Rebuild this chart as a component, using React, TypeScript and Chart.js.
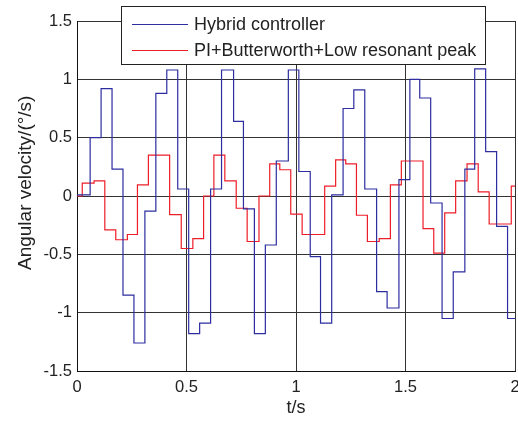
import React, { useEffect, useRef } from "react";
import { Chart, registerables } from "chart.js";

Chart.register(...registerables);

// Hybrid controller: step start times (s) and values (°/s)
const hybridTimes = [0, 0.06, 0.11, 0.16, 0.21, 0.26, 0.31, 0.36, 0.41, 0.46, 0.51, 0.56, 0.61, 0.66, 0.715, 0.76, 0.81, 0.86, 0.91, 0.965, 1.013, 1.065, 1.112, 1.163, 1.215, 1.264, 1.314, 1.368, 1.416, 1.47, 1.52, 1.565, 1.615, 1.667, 1.718, 1.771, 1.816, 1.866, 1.916, 1.966];
const hybridValues = [0.01, 0.5, 0.92, 0.23, -0.85, -1.26, -0.13, 0.88, 1.08, 0.06, -1.18, -1.09, 0.06, 1.08, 0.64, -0.11, -1.18, -0.42, 0.3, 1.08, 0.21, -0.52, -1.09, 0.01, 0.75, 0.91, 0.06, -0.82, -0.96, 0.14, 1.0, 0.84, -0.06, -1.05, -0.65, 0.23, 1.09, 0.38, -0.26, -1.05];

// PI+Butterworth+Low resonant peak: step start times (s) and values (°/s)
const piTimes = [0, 0.024, 0.078, 0.127, 0.177, 0.23, 0.276, 0.326, 0.423, 0.476, 0.529, 0.578, 0.625, 0.675, 0.727, 0.777, 0.831, 0.88, 0.926, 0.976, 1.028, 1.131, 1.181, 1.227, 1.276, 1.326, 1.38, 1.431, 1.481, 1.58, 1.629, 1.679, 1.729, 1.781, 1.832, 1.882, 1.983];
const piValues = [0, 0.11, 0.13, -0.29, -0.375, -0.33, 0.095, 0.35, -0.16, -0.45, -0.365, 0, 0.35, 0.13, -0.105, -0.39, 0, 0.275, 0.225, -0.155, -0.33, 0.085, 0.31, 0.275, -0.165, -0.39, -0.365, 0.095, 0.3, -0.28, -0.49, -0.145, 0.13, 0.275, 0.035, -0.24, 0.085];

const seriesNames = ["Hybrid controller", "PI+Butterworth+Low resonant peak"];
const xTicks = [0, 0.5, 1, 1.5, 2];
const yTicks = [-1.5, -1, -0.5, 0, 0.5, 1, 1.5];
const tEnd = 2;

const BLUE = "rgb(45,45,160)";
const RED = "rgb(238,30,40)";
const FONT = "'Liberation Sans', Arial, Helvetica, sans-serif";

function toSteps(times: number[], values: number[]) {
  const pts = times.map((t, i) => ({ x: t, y: values[i] }));
  pts.push({ x: tEnd, y: values[values.length - 1] });
  return pts;
}

const legendPlugin = {
  id: "boxLegend",
  afterDraw(chart: any) {
    const ctx = chart.ctx;
    const colors = [BLUE, RED];
    ctx.save();
    const bx = 121.5, by = 6.5, bw = 364, bh = 58;
    ctx.fillStyle = "#fff";
    ctx.fillRect(bx, by, bw, bh);
    ctx.strokeStyle = "#222";
    ctx.lineWidth = 1;
    ctx.strokeRect(bx, by, bw, bh);
    ctx.font = `18px ${FONT}`;
    ctx.textBaseline = "middle";
    ctx.textAlign = "left";
    seriesNames.forEach((name, i) => {
      const y = 24.5 + i * 26;
      ctx.strokeStyle = colors[i];
      ctx.beginPath();
      ctx.moveTo(132, y);
      ctx.lineTo(188, y);
      ctx.stroke();
      ctx.fillStyle = "#222";
      ctx.fillText(name, 194, y + 1);
    });
    ctx.restore();
  },
};

export default function App() {
  const ref = useRef<HTMLCanvasElement | null>(null);
  useEffect(() => {
    if (!ref.current) return;
    const chart = new Chart(ref.current, {
      type: "line",
      data: {
        datasets: [
          {
            label: seriesNames[0],
            data: toSteps(hybridTimes, hybridValues),
            borderColor: BLUE,
            borderWidth: 1.2,
            pointRadius: 0,
            stepped: "before",
            fill: false,
          },
          {
            label: seriesNames[1],
            data: toSteps(piTimes, piValues),
            borderColor: RED,
            borderWidth: 1.2,
            pointRadius: 0,
            stepped: "before",
            fill: false,
          },
        ],
      },
      options: {
        animation: false,
        responsive: false,
        devicePixelRatio: 1,
        layout: { padding: { top: 21, right: 3, left: 0, bottom: 0 } },
        plugins: { legend: { display: false }, tooltip: { enabled: false } },
        scales: {
          x: {
            type: "linear",
            min: 0,
            max: 2,
            afterBuildTicks: (s: any) => {
              s.ticks = xTicks.map((v) => ({ value: v }));
            },
            afterFit: (s: any) => {
              s.height = 50;
              s.paddingLeft = 0;
              s.paddingRight = 0;
            },
            grid: { color: "#333", lineWidth: 1, drawTicks: false },
            border: { display: true, color: "#111", width: 1 },
            ticks: {
              padding: 7,
              color: "#222",
              font: { family: FONT, size: 16.5 },
              maxRotation: 0,
              autoSkip: false,
              callback: (v: any) => String(v),
            },
            title: {
              display: true,
              text: "t/s",
              color: "#222",
              font: { family: FONT, size: 18 },
              padding: { top: 0, bottom: 2 },
            },
          },
          y: {
            type: "linear",
            min: -1.5,
            max: 1.5,
            afterBuildTicks: (s: any) => {
              s.ticks = yTicks.map((v) => ({ value: v }));
            },
            afterFit: (s: any) => {
              s.width = 77;
              s.paddingTop = 0;
              s.paddingBottom = 0;
            },
            grid: { color: "#333", lineWidth: 1, drawTicks: false },
            border: { display: true, color: "#111", width: 1 },
            ticks: {
              padding: 5,
              color: "#222",
              font: { family: FONT, size: 16.5 },
              autoSkip: false,
              callback: (v: any) => String(v),
            },
            title: {
              display: true,
              text: "     Angular velocity/(°/s)",
              color: "#222",
              font: { family: FONT, size: 19 },
              padding: { top: 14, bottom: 0 },
            },
          },
        },
      },
      plugins: [legendPlugin],
    });
    return () => chart.destroy();
  }, []);
  return (
    <div style={{ position: "absolute", left: 0, top: 0, width: 518, height: 421, background: "#fff" }}>
      <canvas ref={ref} width={518} height={421} />
    </div>
  );
}
